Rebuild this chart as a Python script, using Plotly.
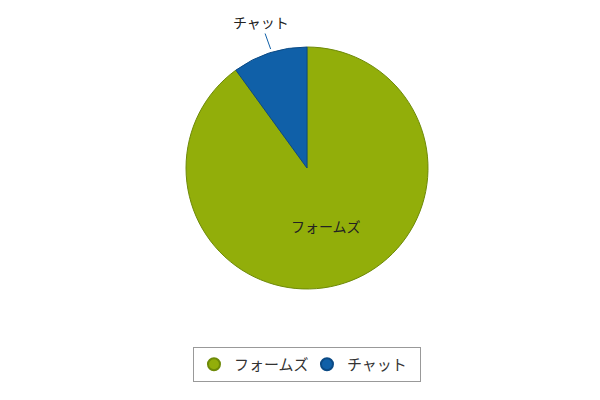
import plotly.graph_objects as go

# share of inquiries by channel
labels = ['フォームズ', 'チャット']
values = [90, 10]
colors = ['#92AE0A', '#1060A8']
edge_colors = ['#6E8A08', '#0B4A85']

fig = go.Figure()

fig.add_trace(go.Pie(
    labels=labels,
    values=values,
    sort=False,
    direction='counterclockwise',
    rotation=0,
    marker=dict(colors=colors, line=dict(color=edge_colors, width=1)),
    textinfo='label',
    textposition=['inside', 'none'],
    insidetextorientation='horizontal',
    textfont=dict(size=14, color='#222222'),
    showlegend=False,
    domain=dict(x=[0.2967, 0.7], y=[0.2975, 0.9025]),
    hoverinfo='label+percent',
))

# outside label for the small slice, with a leader line
fig.add_annotation(
    x=0.4383, y=0.895, xref='paper', yref='paper',
    text=labels[1], showarrow=True, arrowhead=0, arrowwidth=1,
    arrowcolor=colors[1], ax=-10, ay=-28, standoff=1,
    font=dict(size=14, color='#222222'),
)

# circle markers for the legend
for name, c, ec in zip(labels, colors, edge_colors):
    fig.add_trace(go.Scatter(
        x=[None], y=[None], mode='markers', name=name,
        marker=dict(symbol='circle', size=13, color=c, line=dict(color=ec, width=1)),
    ))

fig.update_layout(
    width=600, height=400,
    margin=dict(l=0, r=0, t=0, b=0),
    paper_bgcolor='white', plot_bgcolor='white',
    font=dict(family='Noto Sans CJK JP', size=14, color='#333333'),
    xaxis=dict(visible=False), yaxis=dict(visible=False),
    legend=dict(
        orientation='h', x=0.4983, xanchor='center', y=0.1525, yanchor='top',
        bordercolor='#999999', borderwidth=1, font=dict(size=15),
        itemsizing='constant', entrywidth=68,
    ),
)

fig.write_html('out.html')
